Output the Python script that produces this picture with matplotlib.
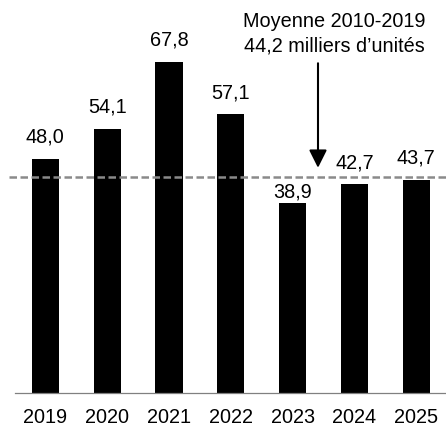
import matplotlib
matplotlib.use("Agg")
import matplotlib.pyplot as plt
import matplotlib.transforms as mtransforms

plt.rcParams['font.family'] = ['Liberation Sans', 'DejaVu Sans']

years = ["2019", "2020", "2021", "2022", "2023", "2024", "2025"]
values = [48.0, 54.1, 67.8, 57.1, 38.9, 42.7, 43.7]
labels = ["48,0", "54,1", "67,8", "57,1", "38,9", "42,7", "43,7"]
average = 44.2
avg_text_1 = "Moyenne 2010-2019"
avg_text_2 = "44,2 milliers d\u2019unités"

FS = 14.3
W, H = 446, 426
fig = plt.figure(figsize=(W / 100, H / 100), dpi=100)
ax = fig.add_axes([15 / W, 33 / H, (W - 15) / W, 393 / H])

x = list(range(len(years)))
ax.bar(x, values, width=0.44, color="black", zorder=2)

ax.set_xlim(-0.49, 6.48)
ax.set_ylim(0, 80.45)

for i, (v, lab) in enumerate(zip(values, labels)):
    off = 4.3 if v < average - 3 else 11.5
    ax.annotate(lab, xy=(i, v), xytext=(0, off), textcoords="offset points",
                ha="center", va="baseline", fontsize=FS, color="black")

trans = mtransforms.blended_transform_factory(ax.transAxes, ax.transData)
ax.plot([-0.014, 1.0], [average, average], transform=trans, clip_on=False,
        color="#8a8a8a", lw=1.8, dashes=(3.0, 1.4), zorder=3)

ax.annotate("", xy=(4.41, 46.1), xytext=(4.41, 67.5),
            arrowprops=dict(arrowstyle="-|>,head_length=0.54,head_width=0.27",
                            mutation_scale=20, lw=1.5, color="black",
                            shrinkA=0, shrinkB=0))
ax.text(4.68, 75.0, avg_text_1, ha="center", va="baseline", fontsize=FS)
ax.text(4.68, 69.9, avg_text_2, ha="center", va="baseline", fontsize=FS)

for s in ["left", "right", "top"]:
    ax.spines[s].set_visible(False)
ax.spines["bottom"].set_color("#808080")
ax.spines["bottom"].set_linewidth(0.9)
ax.set_yticks([])
ax.set_xticks(x)
ax.set_xticklabels(years, fontsize=FS)
ax.tick_params(axis="x", length=0, pad=10.5)

fig.savefig("out.png", dpi=100)
